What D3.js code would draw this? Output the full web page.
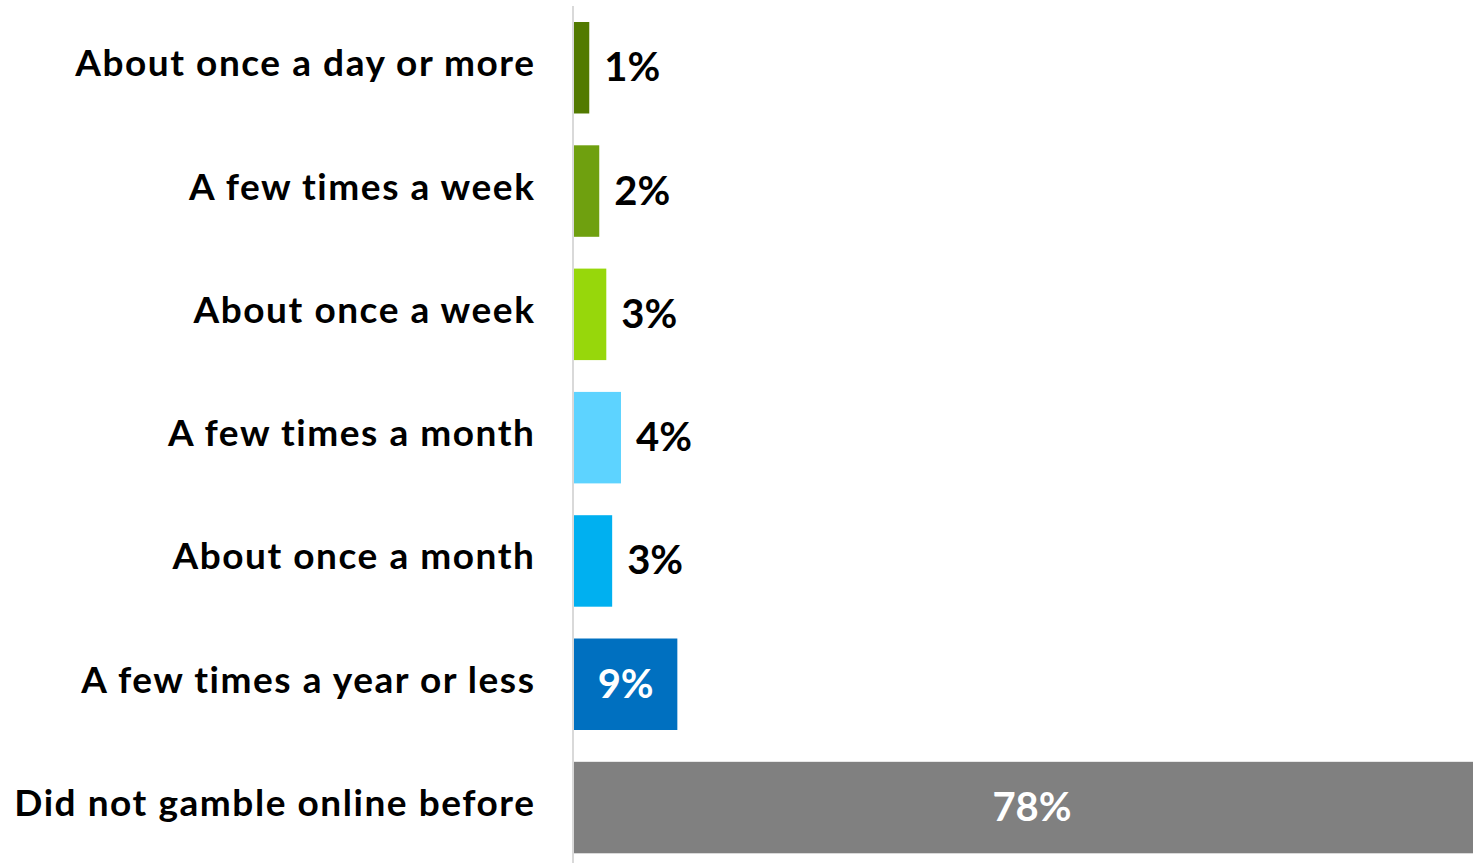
<!DOCTYPE html>
<html><head><meta charset="utf-8">
<script src="https://cdn.jsdelivr.net/npm/d3@7"></script>
<style>html,body{margin:0;padding:0;background:#fff;overflow:hidden}svg{display:block}</style>
</head><body><svg id="c" width="1473" height="863"></svg>
<script>
const categories = ["About once a day or more","A few times a week","About once a week","A few times a month","About once a month","A few times a year or less","Did not gamble online before"];
const values = [1.3, 2.15, 2.75, 4.0, 3.25, 8.8, 78];
const valueLabels = ["1%","2%","3%","4%","3%","9%","78%"];
const colors = ["#527a00","#6fa00f","#97d70b","#5dd3ff","#00b0f0","#0070c0","#808080"];
const insideLabel = [false,false,false,false,false,true,true];

const svg = d3.select("#c");
const x0 = 574;
const x = d3.scaleLinear().domain([0, 78]).range([x0, 1490]);
const y = d3.scaleBand().domain(categories).range([22, 853.3]).paddingInner(0.258).paddingOuter(0);
const font = "Lato, 'Open Sans', sans-serif";

svg.append("g").selectAll("rect").data(categories).join("rect")
  .attr("x", x0).attr("y", d => y(d)).attr("width", (d,i) => x(values[i]) - x0)
  .attr("height", y.bandwidth()).attr("fill", (d,i) => colors[i]);

svg.append("line").attr("x1", 573).attr("x2", 573).attr("y1", 6).attr("y2", 863)
  .attr("stroke", "#d9d9d9").attr("stroke-width", 2);

svg.append("g").selectAll("text").data(categories).join("text")
  .attr("x", 535.5).attr("y", d => y(d) + y.bandwidth()/2 + 8.5)
  .attr("text-anchor", "end")
  .style("font-family", font).style("font-weight", 700).style("font-size", "37px")
  .style("letter-spacing", "1.55px").attr("fill", "#000")
  .text(d => d);

svg.append("g").selectAll("text").data(categories).join("text")
  .attr("x", (d,i) => insideLabel[i] ? (x0 + x(values[i]))/2 : x(values[i]) + 15)
  .attr("y", d => y(d) + y.bandwidth()/2 + 13.5)
  .attr("text-anchor", (d,i) => insideLabel[i] ? "middle" : "start")
  .style("font-family", font).style("font-weight", 700).style("font-size", "40px")
  .attr("fill", (d,i) => insideLabel[i] ? "#fff" : "#000")
  .text((d,i) => valueLabels[i]);
</script></body></html>
